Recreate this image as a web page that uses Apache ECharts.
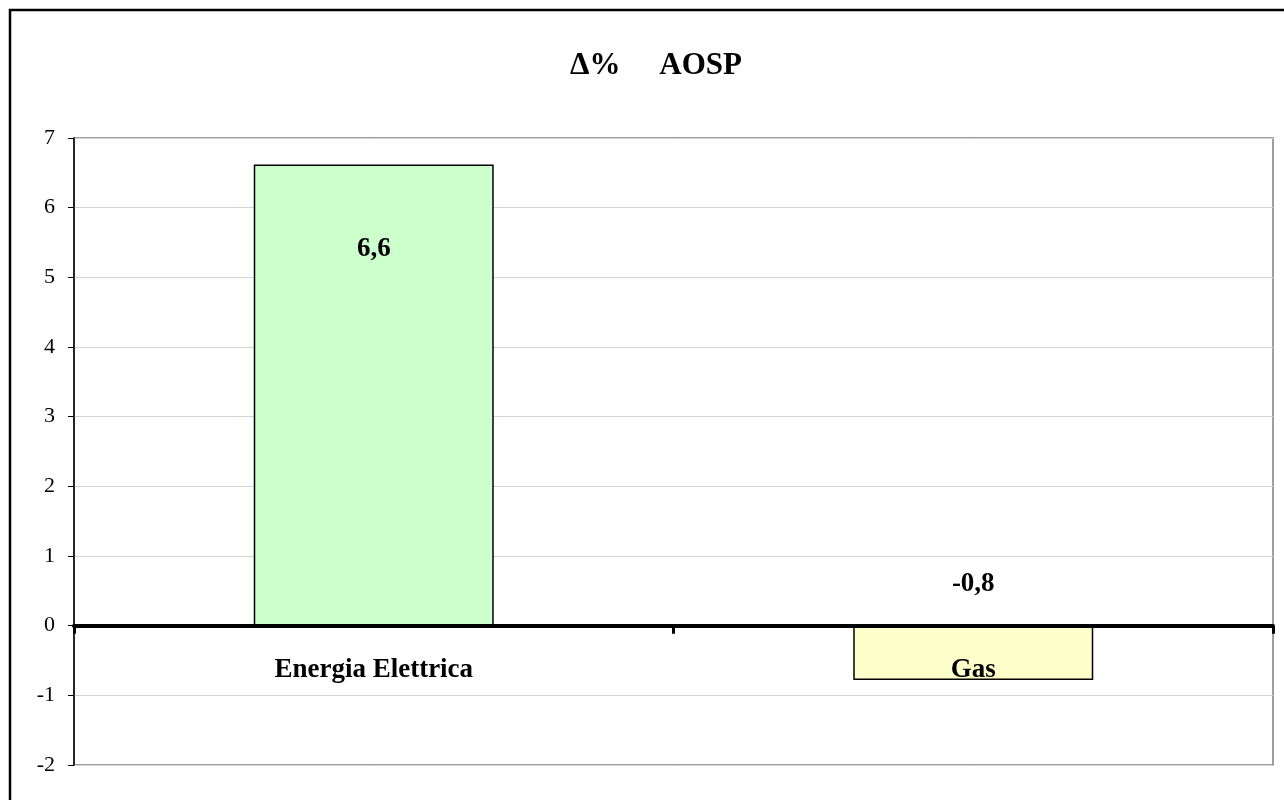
<!DOCTYPE html>
<html>
<head>
<meta charset="utf-8">
<script src="https://cdn.jsdelivr.net/npm/echarts@6/dist/echarts.min.js"></script>
<style>html,body{margin:0;padding:0;background:#fff}#c{width:1284px;height:800px}</style>
</head>
<body>
<div id="c"></div>
<script>
var titleText = 'Δ%     AOSP';
var categories = ['Energia Elettrica', 'Gas'];
var values = [6.62, -0.78];
var labels = ['6,6', '-0,8'];
var barColors = ['#CCFFCC', '#FFFFCC'];
var yTicks = [-2, -1, 0, 1, 2, 3, 4, 5, 6, 7];

var chart = echarts.init(document.getElementById('c'), null, {renderer: 'canvas'});
var serif = '"Liberation Serif", "Times New Roman", serif';
chart.setOption({
  animation: false,
  backgroundColor: '#fff',
  textStyle: {fontFamily: serif},
  title: {
    text: titleText,
    left: 651, top: 45, textAlign: 'center',
    textStyle: {fontFamily: serif, fontWeight: 'bold', fontSize: 31, color: '#000'}
  },
  grid: {left: 74, right: 11, top: 138, bottom: 35, outerBoundsMode: 'none', containLabel: false, show: true, borderColor: '#808080', borderWidth: 1.5, backgroundColor: 'transparent'},
  xAxis: {
    type: 'category',
    z: 10,
    data: categories,
    axisLine: {onZeroAxisIndex: 0, lineStyle: {color: '#000', width: 4}},
    axisTick: {show: true, alignWithLabel: false, length: 8, lineStyle: {color: '#000', width: 3}},
    axisLabel: {margin: -95, verticalAlign: 'middle', fontFamily: serif, fontWeight: 'bold', fontSize: 27, color: '#000'}
  },
  yAxis: {
    type: 'value',
    min: yTicks[0], max: yTicks[yTicks.length - 1], interval: 1,
    axisLine: {show: true, lineStyle: {color: '#000', width: 1.5}},
    axisTick: {show: true, length: 6, lineStyle: {color: '#000'}},
    axisLabel: {margin: 19, fontFamily: serif, fontSize: 22, color: '#000'},
    splitLine: {show: true, lineStyle: {color: '#d4d4d4', width: 1}}
  },
  series: [{
    type: 'bar',
    barWidth: 240,
    data: values.map(function (v, i) {
      return {
        value: v,
        itemStyle: {color: barColors[i], borderColor: '#000', borderWidth: 1.5},
        label: {
          show: true,
          position: v >= 0 ? 'insideTop' : 'top',
          distance: v >= 0 ? 71 : 28,
          formatter: labels[i],
          fontFamily: serif, fontWeight: 'bold', fontSize: 27, color: '#000'
        }
      };
    })
  }],
  graphic: [{
    type: 'rect',
    shape: {x: 10, y: 10, width: 1300, height: 820},
    style: {fill: null, stroke: '#000', lineWidth: 2.5},
    silent: true
  }]
});
</script>
</body>
</html>
